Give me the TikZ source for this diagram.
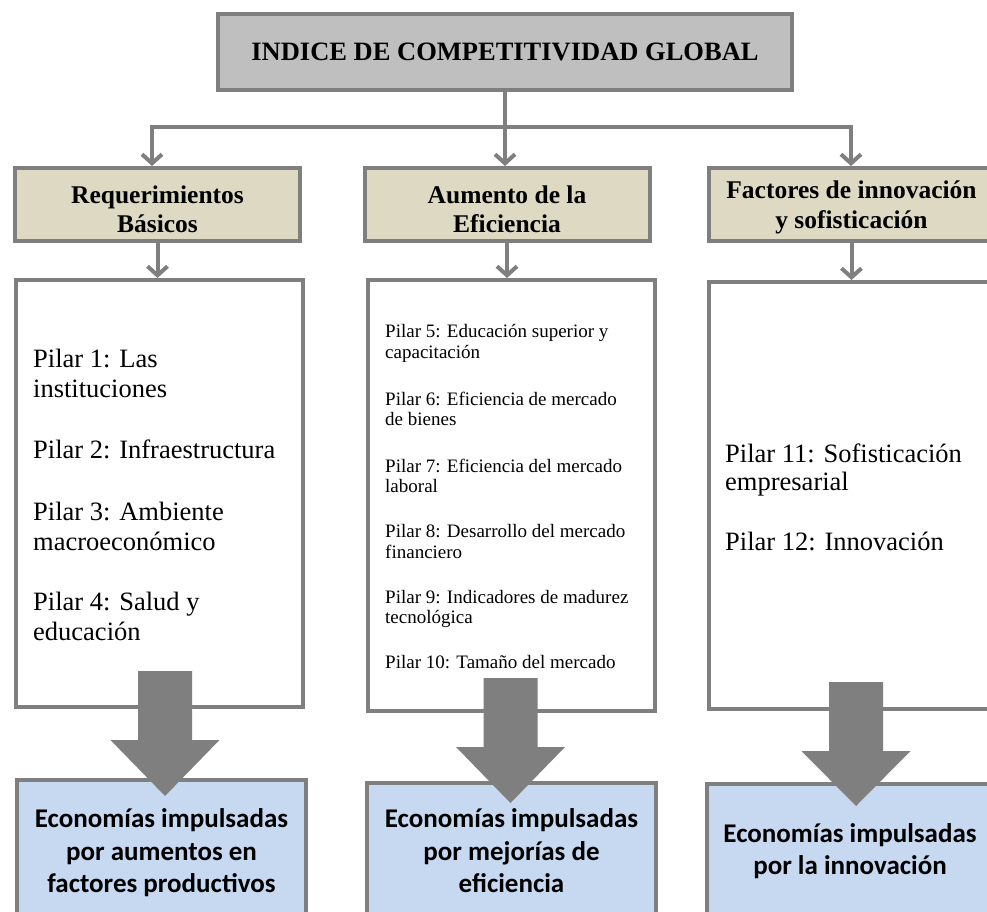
\documentclass[tikz,border=0pt]{standalone}
\usepackage{fontspec}
\setmainfont{Liberation Serif}
\newfontfamily\calib{Carlito}
\usetikzlibrary{arrows.meta}
\definecolor{edge}{HTML}{7F7F7F}
\definecolor{titlefill}{HTML}{BFBFBF}
\definecolor{headfill}{HTML}{DDD9C3}
\definecolor{resfill}{HTML}{C6D9F1}
\tikzset{
 boxline/.style={draw=edge, line width=4pt},
 titlebox/.style={boxline, fill=titlefill, minimum width=574pt, minimum height=76pt, inner sep=0pt, font=\fontsize{26.5}{30}\selectfont\bfseries},
 headbox/.style={boxline, fill=headfill, minimum width=285pt, minimum height=73pt},
 headtxt/.style={align=center, inner sep=0pt, font=\fontsize{25.5}{29.5}\selectfont\bfseries},
 listbox/.style={boxline, fill=white, minimum width=287pt},
 resultbox/.style={boxline, fill=resfill, minimum width=289pt, minimum height=160pt},
 conn/.style={draw=edge, line width=4pt, -{Straight Barb[length=9pt,width=20pt]}},
 plainline/.style={draw=edge, line width=4pt},
 bigtxt/.style={anchor=base west, font=\fontsize{26.5}{30}\selectfont, inner sep=0pt},
 smalltxt/.style={anchor=base west, font=\fontsize{19}{21}\selectfont, inner sep=0pt},
 restxt/.style={anchor=base, font=\calib\fontsize{27}{33}\selectfont\bfseries, inner sep=0pt},
 bigarrow/.style={fill=edge},
}
\begin{document}
\begin{tikzpicture}[x=1pt,y=-1pt]
\useasboundingbox (0,0) rectangle (987,912);
\clip (0,0) rectangle (987,912);
\fill[white] (0,0) rectangle (987,912);

% title
\node[titlebox] (top) at (505,52) {INDICE DE COMPETITIVIDAD GLOBAL};

% header boxes
\node[headbox] (h1) at (157.5,204.5) {};
\node[headbox] (h2) at (507,204.5) {};
\node[headbox] (h3) at (851.5,204.5) {};
\node[headtxt] (h1t) at ([yshift=-5pt]h1.center) {Requerimientos\\Básicos};
\node[headtxt] (h2t) at ([yshift=-5pt]h2.center) {Aumento de la\\Eficiencia};
\node[headtxt] (h3t) at ([yshift=-3pt]h3.center) {Factores de innovación\\y sofisticación};

% list boxes
\node[listbox, minimum height=427pt] (c1) at (159.5,493.5) {};
\node[listbox, minimum height=431pt] (c2) at (511.5,495.5) {};
\node[listbox, minimum height=427pt] (c3) at (852.5,495.5) {};

% result boxes
\node[resultbox] (r1) at (161.5,860) {};
\node[resultbox] (r2) at (511.5,863) {};
\node[resultbox] (r3) at (851.5,864) {};

% connectors from title
\coordinate (hl) at (152,127);
\coordinate (hr) at (851,127);
\draw[plainline] (hl) -- (hr);
\draw[conn] (top.south) -- (top.south |- h2.north);
\draw[conn] ([yshift=2pt]hl) -- (hl |- h1.north);
\draw[conn] ([yshift=2pt]hr) -- (hr |- h3.north);

% connectors from headers to lists
\draw[conn] (h1.south) -- (h1.south |- c1.north);
\draw[conn] (h2.south) -- (h2.south |- c2.north);
\draw[conn] (h3.south) -- (h3.south |- c3.north);

% list texts
\foreach \yy/\tt [count=\k] in {367/{Pilar 1: Las}, 397/{instituciones}, 458/{Pilar 2: Infraestructura}, 520/{Pilar 3: Ambiente}, 550/{macroeconómico}, 610/{Pilar 4: Salud y}, 640/{educación}}
  \node[bigtxt] (ta\k) at (33,\yy) {\tt};
\foreach \yy/\tt [count=\k] in {337/{Pilar 5: Educación superior y}, 358/{capacitación}, 405/{Pilar 6: Eficiencia de mercado}, 425/{de bienes}, 472/{Pilar 7: Eficiencia del mercado}, 492/{laboral}, 537/{Pilar 8: Desarrollo del mercado}, 558/{financiero}, 603/{Pilar 9: Indicadores de madurez}, 623/{tecnológica}, 668/{Pilar 10: Tamaño del mercado}}
  \node[smalltxt] (tb\k) at (385,\yy) {\tt};
\foreach \yy/\tt [count=\k] in {462/{Pilar 11: Sofisticación}, 490/{empresarial}, 550/{Pilar 12: Innovación}}
  \node[bigtxt] (tc\k) at (725,\yy) {\tt};

% big arrows
\foreach \cx/\ty/\hy/\py [count=\k] in {165/671/740/796, 510.5/678/747/803, 856/682/751/806}
  \fill[bigarrow] (\cx-27,\ty) -- (\cx+27,\ty) -- (\cx+27,\hy) -- (\cx+54.5,\hy) -- (\cx,\py) -- (\cx-54.5,\hy) -- (\cx-27,\hy) -- cycle;

% result texts
\node[restxt] (ra1) at (161.5,827) {Economías impulsadas};
\node[restxt] (ra2) at (161.5,860) {por aumentos en};
\node[restxt] (ra3) at (161.5,892) {factores productivos};
\node[restxt] (rb1) at (511.5,827) {Economías impulsadas};
\node[restxt] (rb2) at (511.5,860) {por mejorías de};
\node[restxt] (rb3) at (511.5,892) {eficiencia};
\node[restxt] (rc1) at (850,842) {Economías impulsadas};
\node[restxt] (rc2) at (850,874) {por la innovación};
\end{tikzpicture}
\end{document}
